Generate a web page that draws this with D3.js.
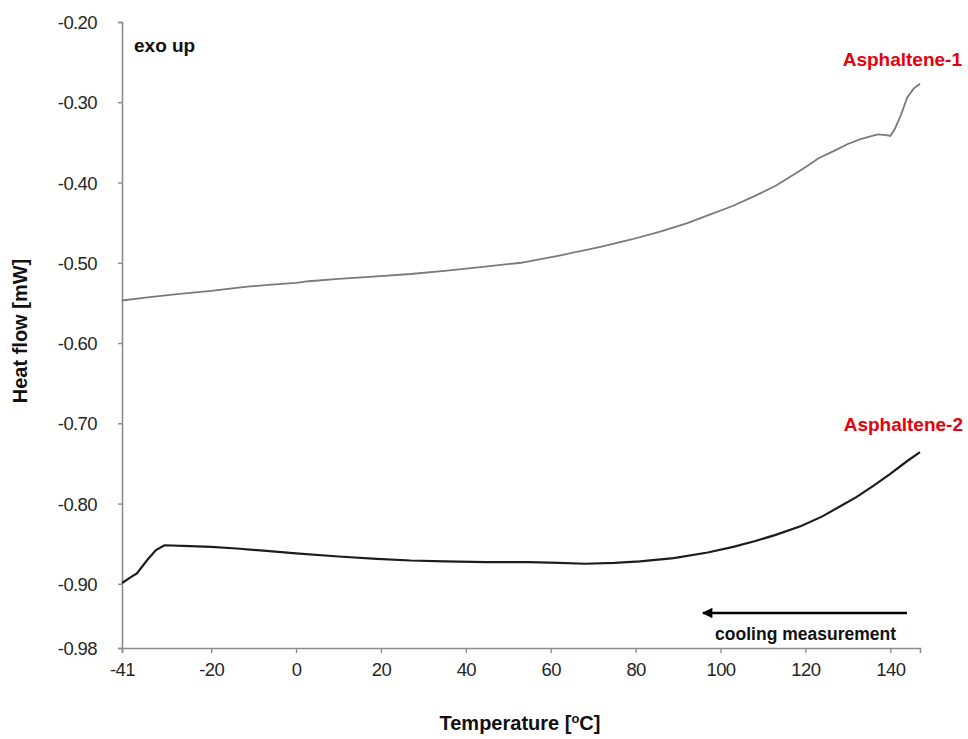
<!DOCTYPE html>
<html>
<head>
<meta charset="utf-8">
<script src="https://cdn.jsdelivr.net/npm/d3@7"></script>
<style>
  body { margin: 0; background: #fff; }
  svg text { font-family: "Liberation Sans", Arial, sans-serif; }
</style>
</head>
<body>
<script>
// values
var tempA1 = [-41, -35, -28, -20, -12, -5, 0, 3, 10, 19, 27, 35, 44, 53, 62, 72, 79, 86, 92, 97, 103, 108, 113, 117, 120, 123, 127, 130, 133, 137, 139, 140, 141, 142.5, 144, 145.5, 147];
var heatA1 = [-0.547, -0.543, -0.539, -0.535, -0.530, -0.527, -0.525, -0.523, -0.520, -0.517, -0.514, -0.510, -0.505, -0.500, -0.491, -0.480, -0.471, -0.461, -0.451, -0.441, -0.429, -0.417, -0.404, -0.391, -0.381, -0.370, -0.360, -0.352, -0.346, -0.340, -0.341, -0.342, -0.334, -0.316, -0.294, -0.283, -0.277];

var tempA2 = [-41, -39, -37.5, -35, -33, -31, -25, -20, -14, -7, 0, 10, 19, 27, 35, 45, 55, 62, 68, 75, 81, 89, 97, 103, 108, 113, 119, 124, 128, 132, 136, 140, 144, 147];
var heatA2 = [-0.899, -0.892, -0.887, -0.870, -0.858, -0.852, -0.853, -0.854, -0.856, -0.859, -0.862, -0.866, -0.869, -0.871, -0.872, -0.873, -0.873, -0.874, -0.875, -0.874, -0.872, -0.868, -0.861, -0.854, -0.847, -0.839, -0.828, -0.816, -0.804, -0.792, -0.778, -0.763, -0.747, -0.736];

var xTicks = [-41, -20, 0, 20, 40, 60, 80, 100, 120, 140];
var yTicks = [-0.20, -0.30, -0.40, -0.50, -0.60, -0.70, -0.80, -0.90, -0.98];

var width = 968, height = 739;
var plotLeft = 122, plotRight = 920, plotTop = 22, plotBottom = 648;

var svg = d3.select('body')
	.append('svg')
	.attr('width', width)
	.attr('height', height);

var x = d3.scaleLinear().domain([-41, 147]).range([plotLeft, plotRight]);
var y = d3.scaleLinear().domain([-0.98, -0.20]).range([plotBottom, plotTop]);

var xAxis = svg.append('g')
	.attr('transform', 'translate(0,' + plotBottom + ')')
	.call(d3.axisBottom(x).tickValues(xTicks).tickSize(5).tickSizeOuter(5).tickPadding(10)
		.tickFormat(function(d) { return String(d); }));

var yAxis = svg.append('g')
	.attr('transform', 'translate(' + plotLeft + ',0)')
	.call(d3.axisLeft(y).tickValues(yTicks).tickSize(4).tickSizeOuter(4).tickPadding(21)
		.tickFormat(function(d) { return d.toFixed(2); }));

[xAxis, yAxis].forEach(function(g) {
	g.select('.domain').attr('stroke', '#8c8c8c').attr('stroke-width', 1.6);
	g.selectAll('.tick line').attr('stroke', '#8c8c8c').attr('stroke-width', 1.4);
	g.selectAll('.tick text')
		.attr('fill', '#262626')
		.style('font-size', '18.5px')
		.style('letter-spacing', '-0.6px')
		.style('font-family', '"Liberation Sans", Arial, sans-serif');
});
yAxis.selectAll('.tick text').attr('dy', '0.36em');

var line = d3.line()
	.x(function(d) { return x(d[0]); })
	.y(function(d) { return y(d[1]); });

svg.append('path')
	.datum(d3.zip(tempA1, heatA1))
	.attr('fill', 'none')
	.attr('stroke', '#7a7a7a')
	.attr('stroke-width', 1.8)
	.attr('d', line);

svg.append('path')
	.datum(d3.zip(tempA2, heatA2))
	.attr('fill', 'none')
	.attr('stroke', '#1c1c1c')
	.attr('stroke-width', 2.2)
	.attr('d', line);

// series labels
svg.append('text')
	.attr('x', 962).attr('y', 66)
	.attr('text-anchor', 'end')
	.attr('fill', '#e8000b')
	.style('font-size', '19px').style('font-weight', 'bold')
	.text('Asphaltene-1');

svg.append('text')
	.attr('x', 963).attr('y', 431)
	.attr('text-anchor', 'end')
	.attr('fill', '#e8000b')
	.style('font-size', '19px').style('font-weight', 'bold')
	.text('Asphaltene-2');

svg.append('text')
	.attr('x', 134).attr('y', 52)
	.attr('fill', '#111')
	.style('font-size', '19px').style('font-weight', 'bold')
	.text('exo up');

// cooling arrow
svg.append('defs').append('marker')
	.attr('id', 'head')
	.attr('viewBox', '0 0 10 10')
	.attr('refX', 9).attr('refY', 5)
	.attr('markerWidth', 5).attr('markerHeight', 4)
	.attr('orient', 'auto')
	.append('path')
	.attr('d', 'M0,0 L10,5 L0,10 z')
	.attr('fill', '#000');

svg.append('line')
	.attr('x1', 907).attr('y1', 613)
	.attr('x2', 703).attr('y2', 613)
	.attr('stroke', '#000')
	.attr('stroke-width', 2.6)
	.attr('marker-end', 'url(#head)');

svg.append('text')
	.attr('x', 896).attr('y', 640)
	.attr('text-anchor', 'end')
	.attr('fill', '#111')
	.style('font-size', '17.5px').style('font-weight', 'bold')
	.text('cooling measurement');

// axis titles
var xt = svg.append('text')
	.attr('x', 520).attr('y', 730)
	.attr('text-anchor', 'middle')
	.attr('fill', '#111')
	.style('font-size', '20px').style('font-weight', 'bold');
xt.append('tspan').text('Temperature [');
xt.append('tspan').attr('dy', -7).style('font-size', '13px').text('o');
xt.append('tspan').attr('dy', 7).text('C]');

svg.append('text')
	.attr('transform', 'translate(27,331) rotate(-90)')
	.attr('text-anchor', 'middle')
	.attr('fill', '#111')
	.style('font-size', '20px').style('font-weight', 'bold')
	.text('Heat flow [mW]');
</script>
</body>
</html>
